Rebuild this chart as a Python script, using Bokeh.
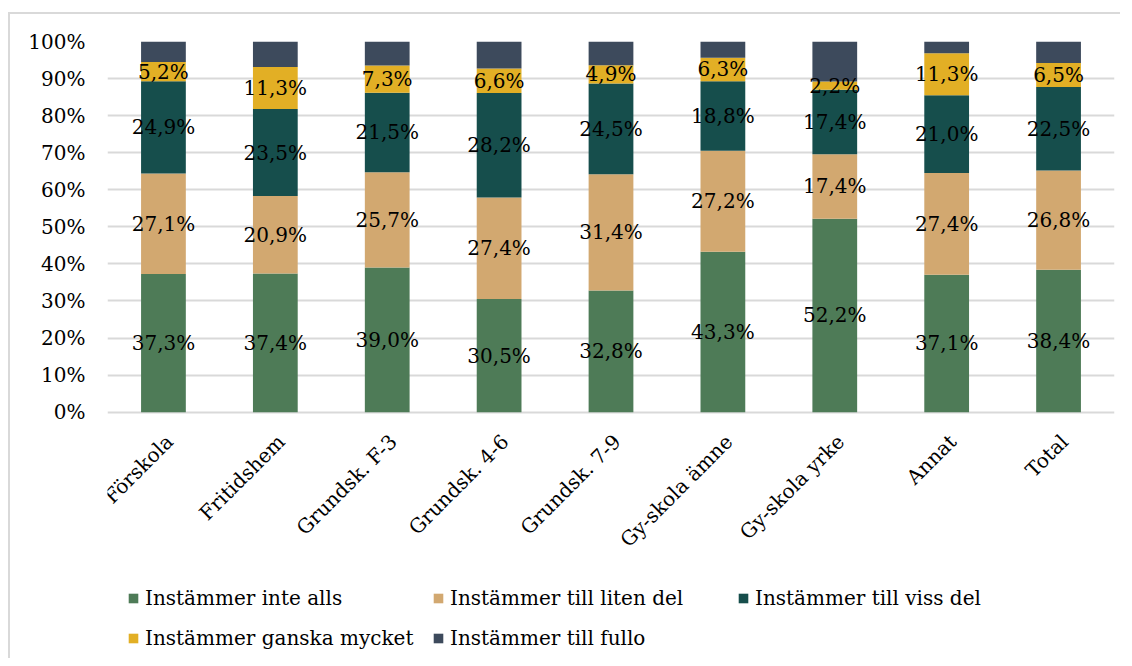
from bokeh.plotting import figure
from bokeh.models import ColumnDataSource, Legend, LegendItem, PrintfTickFormatter, FixedTicker, Range1d
from bokeh.core.properties import value
from bokeh.embed import file_html
from bokeh.resources import INLINE
import math

categories = ["Förskola", "Fritidshem", "Grundsk. F-3", "Grundsk. 4-6", "Grundsk. 7-9",
              "Gy-skola ämne", "Gy-skola yrke", "Annat", "Total"]
series_names = ["Instämmer inte alls", "Instämmer till liten del", "Instämmer till viss del",
                "Instämmer ganska mycket", "Instämmer till fullo"]
inte_alls = [37.3, 37.4, 39.0, 30.5, 32.8, 43.3, 52.2, 37.1, 38.4]
liten_del = [27.1, 20.9, 25.7, 27.4, 31.4, 27.2, 17.4, 27.4, 26.8]
viss_del = [24.9, 23.5, 21.5, 28.2, 24.5, 18.8, 17.4, 21.0, 22.5]
ganska_mycket = [5.2, 11.3, 7.3, 6.6, 4.9, 6.3, 2.2, 11.3, 6.5]
till_fullo = [5.5, 6.9, 6.5, 7.3, 6.4, 4.4, 10.8, 3.2, 5.8]
y_ticks = [0, 10, 20, 30, 40, 50, 60, 70, 80, 90, 100]

colors = ["#4E7B57", "#D2A870", "#164E4C", "#E2AF25", "#3D4A5C"]
FONT = "DejaVu Serif"
keys = ["s0", "s1", "s2", "s3", "s4"]
series = [inte_alls, liten_del, viss_del, ganska_mycket, till_fullo]

data = {"cat": categories}
for k, s in zip(keys, series):
    data[k] = s
source = ColumnDataSource(data)

p = figure(x_range=categories, width=1112, height=646, output_backend="svg",
           toolbar_location=None, min_border_left=97, min_border_right=8,
           min_border_top=27, min_border_bottom=0,
           styles={"margin-left": "8px", "margin-top": "12px",
                   "border-left": "2px solid #d9d9d9", "border-top": "2px solid #d9d9d9"})
# frame spans down to the canvas bottom so that category labels and legend can sit inside it
p.y_range = Range1d(-67, 100)
p.x_range.range_padding = 0
p.xaxis.visible = False

renderers = p.vbar_stack(keys, x="cat", width=0.4, source=source, color=colors,
                         line_color=None)

# labels for first four series
for i in range(4):
    mids = []
    texts = []
    for j in range(len(categories)):
        base = sum(series[m][j] for m in range(i))
        mids.append(base + series[i][j] / 2)
        texts.append(f"{series[i][j]:.1f}%".replace(".", ","))
    ls = ColumnDataSource({"cat": categories, "y": mids, "t": texts})
    p.text(x="cat", y="y", text="t", source=ls, text_align="center", text_baseline="middle",
           text_font=value(FONT), text_font_size="20px", text_color="#000000")

# category labels (rotated 45 degrees) below the 0% line
cs = ColumnDataSource({"cat": categories, "y": [0] * len(categories)})
p.text(x="cat", y="y", text="cat", source=cs, angle=math.pi / 4, text_align="right",
       text_baseline="middle", x_offset=6, y_offset=26,
       text_font=value(FONT), text_font_size="20px", text_color="#000000")

p.outline_line_color = None
p.ygrid.grid_line_color = "#d9d9d9"
p.ygrid.grid_line_width = 2
p.xgrid.grid_line_color = None
p.yaxis.ticker = FixedTicker(ticks=y_ticks)
p.yaxis.formatter = PrintfTickFormatter(format="%d%%")
ax = p.yaxis[0]
ax.axis_line_color = None
ax.major_tick_line_color = None
ax.minor_tick_line_color = None
ax.major_tick_out = 0
ax.major_tick_in = 0
ax.major_label_text_font = FONT
ax.major_label_text_font_size = "20px"
ax.major_label_text_color = "#000000"
ax.major_label_standoff = 22

items = [LegendItem(label=n, renderers=[r]) for n, r in zip(series_names, renderers)]
legend = Legend(items=items, location=(20, 6), ncols=3, orientation="horizontal",
                glyph_width=12, glyph_height=12, label_standoff=6, label_width=280,
                label_height=33, spacing=7, padding=0, margin=0, border_line_color=None,
                background_fill_alpha=0, label_text_font=FONT, label_text_font_size="20px",
                label_text_color="#000000")
p.add_layout(legend, "center")

open("out.html", "w").write(file_html(p, INLINE))
